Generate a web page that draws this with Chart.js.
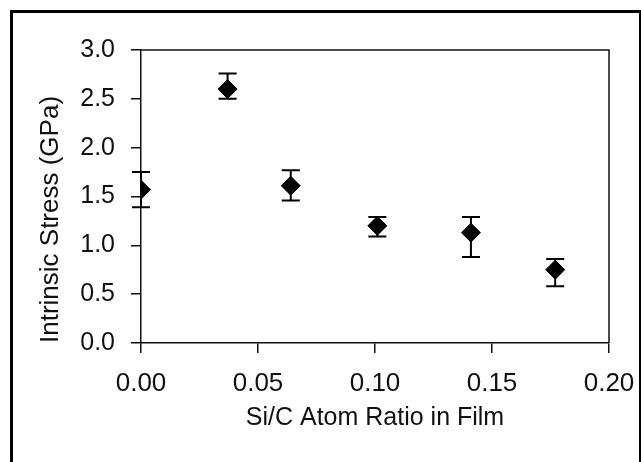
<!DOCTYPE html>
<html>
<head>
<meta charset="utf-8">
<script src="https://cdn.jsdelivr.net/npm/chart.js@4/dist/chart.umd.min.js"></script>
<style>
  html, body { margin: 0; padding: 0; background: #fff; }
  #wrap { position: relative; width: 641px; height: 462px; overflow: hidden; }
  #frame { position: absolute; left: 10px; top: 10px; width: 626px; height: 470px;
           border-left: 3px solid #000; border-top: 3px solid #000; border-right: 2px solid #000; }
  canvas { position: absolute; left: 0; top: 0; }
</style>
</head>
<body>
<div id="wrap">
  <canvas id="c" width="641" height="462"></canvas>
  <div id="frame"></div>
</div>
<script>
// ---- data ----
const siCRatio   = [0.000, 0.037, 0.064, 0.101, 0.141, 0.177];
const stressGPa  = [1.57, 2.60, 1.61, 1.20, 1.13, 0.75];
const errUpper   = [0.18, 0.16, 0.16, 0.09, 0.16, 0.11];
const errLower   = [0.18, 0.10, 0.15, 0.11, 0.25, 0.17];
const xTickVals  = [0.00, 0.05, 0.10, 0.15, 0.20];
const yTickVals  = [0.0, 0.5, 1.0, 1.5, 2.0, 2.5, 3.0];
const xTitle = 'Si/C Atom Ratio in Film';
const yTitle = 'Intrinsic Stress (GPa)';

const FONT = "'Liberation Sans', Arial, Helvetica, sans-serif";
const AXIS_COLOR = '#111';

const points = siCRatio.map((x, i) => ({ x: x, y: stressGPa[i] }));

const errorBars = {
  id: 'errorBars',
  beforeDatasetsDraw(chart) {
    const ctx = chart.ctx, xs = chart.scales.x, ys = chart.scales.y;
    ctx.save();
    ctx.strokeStyle = '#000';
    ctx.lineWidth = 2;
    const cap = 9;
    siCRatio.forEach((xv, i) => {
      const px = xs.getPixelForValue(xv);
      const top = ys.getPixelForValue(stressGPa[i] + errUpper[i]);
      const bot = ys.getPixelForValue(stressGPa[i] - errLower[i]);
      ctx.beginPath();
      ctx.moveTo(px, top); ctx.lineTo(px, bot);
      ctx.moveTo(px - cap, top); ctx.lineTo(px + cap, top);
      ctx.moveTo(px - cap, bot); ctx.lineTo(px + cap, bot);
      ctx.stroke();
    });
    ctx.restore();
  }
};

const boxFrame = {
  id: 'boxFrame',
  afterDraw(chart) {
    const a = chart.chartArea, ctx = chart.ctx;
    ctx.save();
    ctx.strokeStyle = AXIS_COLOR;
    ctx.lineWidth = 1.5;
    ctx.beginPath();
    ctx.moveTo(a.left, a.top); ctx.lineTo(a.right, a.top); ctx.lineTo(a.right, a.bottom);
    ctx.stroke();
    ctx.restore();
  }
};

new Chart(document.getElementById('c'), {
  type: 'scatter',
  data: {
    datasets: [{
      data: points,
      pointStyle: 'rectRot',
      pointRadius: 9.5,
      pointHoverRadius: 9.5,
      backgroundColor: '#000',
      borderColor: '#000',
      borderWidth: 1
    }]
  },
  plugins: [errorBars, boxFrame],
  options: {
    responsive: false,
    animation: false,
    layout: { padding: { left: 0, top: 50, right: 32, bottom: 0 } },
    plugins: { legend: { display: false }, tooltip: { enabled: false } },
    scales: {
      x: {
        type: 'linear', min: 0, max: 0.2,
        afterBuildTicks: s => { s.ticks = xTickVals.map(v => ({ value: v })); },
        afterFit: s => { s.height = 119; s.paddingLeft = 0; s.paddingRight = 0; },
        grid: { display: true, drawOnChartArea: false, drawTicks: true, tickLength: 10, color: AXIS_COLOR, lineWidth: 1.5 },
        border: { display: true, color: AXIS_COLOR, width: 1.5 },
        ticks: { color: '#111', padding: 15, maxRotation: 0, font: { family: FONT, size: 26 },
                 callback: v => Number(v).toFixed(2) },
        title: { display: true, text: xTitle, color: '#111', font: { family: FONT, size: 25 },
                 padding: { top: 0, bottom: 29 } }
      },
      y: {
        type: 'linear', min: 0, max: 3,
        afterBuildTicks: s => { s.ticks = yTickVals.map(v => ({ value: v })); },
        afterFit: s => { s.width = 141; s.paddingTop = 0; s.paddingBottom = 0; },
        grid: { display: true, drawOnChartArea: false, drawTicks: true, tickLength: 10, color: AXIS_COLOR, lineWidth: 1.5 },
        border: { display: true, color: AXIS_COLOR, width: 1.5 },
        ticks: { color: '#111', padding: 16, font: { family: FONT, size: 25 },
                 callback: v => Number(v).toFixed(1) },
        title: { display: true, text: yTitle, align: 'start', color: '#111', font: { family: FONT, size: 26 },
                 padding: { top: 35, bottom: 0 } }
      }
    }
  }
});
</script>
</body>
</html>
